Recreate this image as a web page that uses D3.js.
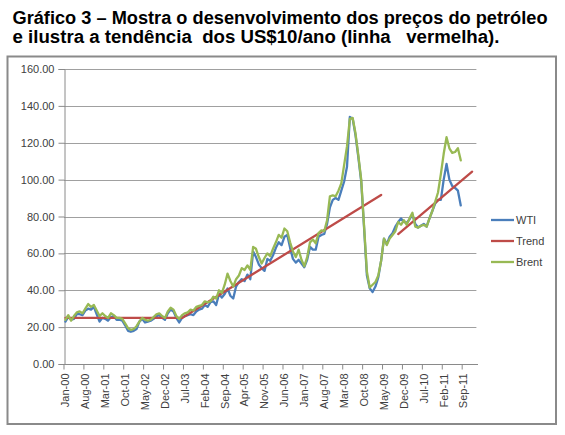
<!DOCTYPE html>
<html>
<head>
<meta charset="utf-8">
<script src="https://cdn.jsdelivr.net/npm/d3@7"></script>
<style>
  body { margin: 0; background: #fff; }
  svg { display: block; }
  text { font-family: "Liberation Sans", Arial, sans-serif; }
</style>
</head>
<body>
<script>
const width = 565;
const height = 435;

// monthly categories Jan-00 .. Jan-12
const months = d3.timeMonths(new Date(2000, 0, 1), new Date(2012, 1, 1));
const fmtMonth = d3.timeFormat("%b-%y");
const labels = months.map(fmtMonth);

// Jan-00 .. Aug-11
const wti = [
  23, 25.5, 24, 24.5, 27, 27, 26.5, 29, 30, 29.5, 31, 27,
  23, 25, 24.5, 23.5, 25.5, 26, 24, 24, 23.5, 21, 18, 17.5,
  18, 19, 23, 24.5, 22.5, 23, 23.5, 24.5, 26, 26.5, 25, 24,
  27.5, 29.5, 28.5, 25, 22.5, 25, 26, 26.5, 27, 26.5, 28.5, 29.5,
  30, 32, 31, 33.5, 34, 32, 38, 36, 38, 41, 37, 35.5,
  42, 44.5, 46, 45, 48.5, 46, 61, 58, 54, 52, 50.5, 57,
  56, 59, 63, 66, 64.5, 69, 70, 63, 57, 55, 56.5, 54.5,
  52.5, 56.5, 63.5, 62, 62, 69, 70, 70.5, 76, 85, 89, 90,
  89, 94, 99, 107, 134, 133, 124, 112, 99, 74, 48, 41,
  39, 42, 47, 56, 68, 65, 69, 71, 74.5, 77, 79, 77,
  76.5, 78.5, 81, 76, 74, 75, 76, 74.5, 79, 83, 87, 89,
  89, 100, 108.5, 100, 96.5, 95.5, 94, 86
];

const brent = [
  24, 26.5, 23.5, 26, 28, 28.5, 27.5, 30, 32.5, 31, 32, 29,
  26, 27.5, 26, 25, 27.5, 26.5, 25, 25, 24.5, 22, 19.5, 18.5,
  19, 20.5, 23, 25, 24, 23.5, 24, 25.5, 27, 27.5, 26, 25,
  28.5, 30.5, 29.5, 26, 24.5, 26.5, 27.5, 28, 29.5, 29, 31, 31.5,
  32, 34, 33.5, 34, 36.5, 35.5, 40, 38.5, 43, 49, 45, 42,
  46, 48, 52, 51, 53.5, 51, 63.5, 62.5, 58, 54.5, 57.5, 60,
  58.5, 62.5, 66, 70, 68.5, 73.5, 72, 66, 61, 58, 62, 56.5,
  53, 58, 66, 67.5, 65.5, 71, 72.5, 72, 78, 91, 91.5, 91,
  94, 98, 108, 118, 133, 133.5, 125, 113, 100, 75, 50, 41.5,
  43, 44.5, 48, 56, 68, 64.5, 68, 70, 72, 77, 75.5, 78,
  75.5, 79, 82, 74.5, 74, 75, 75.5, 74.5, 79, 83, 88, 93,
  103, 114, 123, 117, 114.5, 115, 117, 110.5
];

// trend line vertices, two pieces
const trendA = [["Jan-00", 25], ["Jun-03", 25], ["Apr-09", 91.7]];
const trendB = [["Oct-09", 70.5], ["Dec-11", 104.3]];

const yTicks = [0, 20, 40, 60, 80, 100, 120, 140, 160];
const seriesNames = ["WTI", "Trend", "Brent"];
const colors = {WTI: "#4a7ebb", Trend: "#be4b48", Brent: "#98b954"};

const svg = d3.select("body").append("svg")
  .attr("width", width)
  .attr("height", height);

// title
const title = svg.append("g")
  .attr("font-weight", "bold")
  .attr("font-size", "17.5px")
  .attr("fill", "#000");
title.append("text")
  .attr("x", 12.5).attr("y", 24)
  .attr("textLength", 535).attr("lengthAdjust", "spacingAndGlyphs")
  .text("Gráfico 3 – Mostra o desenvolvimento dos preços do petróleo");
title.append("text")
  .attr("x", 12.5).attr("y", 43)
  .attr("textLength", 487).attr("lengthAdjust", "spacingAndGlyphs")
  .style("white-space", "pre")
  .text("e ilustra a tendência  dos US$10/ano (linha   vermelha).");

// chart area frame
svg.append("rect")
  .attr("x", 7.5).attr("y", 56.5)
  .attr("width", 548.5).attr("height", 367.5)
  .attr("fill", "#fff")
  .attr("stroke", "#8a8a8a")
  .attr("stroke-width", 2);

const x = d3.scaleBand().domain(labels).range([64, 476.4]).padding(0);
const bw = x.bandwidth();
const cx = (m) => x(m) + bw / 2;
const y = d3.scaleLinear().domain([0, 160]).range([364, 69]);

// gridlines
svg.append("g")
  .selectAll("line")
  .data(yTicks.slice(1))
  .join("line")
  .attr("x1", 64).attr("x2", 476.4)
  .attr("y1", (d) => Math.round(y(d)) + 0.5)
  .attr("y2", (d) => Math.round(y(d)) + 0.5)
  .attr("stroke", "#a0a0a0")
  .attr("stroke-width", 1);

// y axis
const yAxis = svg.append("g")
  .attr("transform", "translate(64.5,0)")
  .call(d3.axisLeft(y).tickValues(yTicks).tickFormat(d3.format(".2f")).tickSize(6).tickPadding(4));
yAxis.select(".domain").attr("stroke", "#8a8a8a");
yAxis.selectAll(".tick line").attr("stroke", "#8a8a8a");
yAxis.selectAll(".tick text")
  .attr("font-size", "11px")
  .attr("font-family", "Liberation Sans, Arial, sans-serif")
  .attr("fill", "#404040");

// x axis, a tick every 7 months
const xTickVals = labels.filter((d, i) => i % 7 === 0);
const xAxis = svg.append("g")
  .attr("transform", "translate(0,364.5)")
  .call(d3.axisBottom(x).tickValues(xTickVals).tickSize(5).tickSizeOuter(0));
xAxis.select(".domain").attr("stroke", "#8a8a8a").attr("d", "M64,0H478");
xAxis.selectAll(".tick line")
  .attr("stroke", "#8a8a8a")
  .attr("x1", -bw / 2).attr("x2", -bw / 2);
xAxis.selectAll(".tick text")
  .attr("font-size", "11px")
  .attr("font-family", "Liberation Sans, Arial, sans-serif")
  .attr("fill", "#404040")
  .attr("transform", "rotate(-90)")
  .attr("text-anchor", "end")
  .attr("x", -9)
  .attr("y", 0)
  .attr("dy", "0.35em");

// series
const line = d3.line()
  .x((d) => cx(d[0]))
  .y((d) => y(d[1]));

const pairs = (vals) => vals.map((v, i) => [labels[i], v]);

const plot = svg.append("g")
  .attr("fill", "none")
  .attr("stroke-width", 2.3)
  .attr("stroke-linejoin", "round")
  .attr("stroke-linecap", "round");

plot.append("path").attr("d", line(pairs(wti))).attr("stroke", colors.WTI);
plot.append("path").attr("d", line(trendA)).attr("stroke", colors.Trend);
plot.append("path").attr("d", line(trendB)).attr("stroke", colors.Trend);
plot.append("path").attr("d", line(pairs(brent))).attr("stroke", colors.Brent);

// legend
const legend = svg.append("g")
  .selectAll("g")
  .data(seriesNames)
  .join("g")
  .attr("transform", (d, i) => `translate(491,${220 + i * 21})`);
legend.append("line")
  .attr("x1", 0).attr("x2", 23)
  .attr("stroke", (d) => colors[d])
  .attr("stroke-width", 2.3);
legend.append("text")
  .attr("x", 25).attr("dy", "0.35em")
  .attr("font-size", "11px")
  .attr("fill", "#404040")
  .text((d) => d);
</script>
</body>
</html>
